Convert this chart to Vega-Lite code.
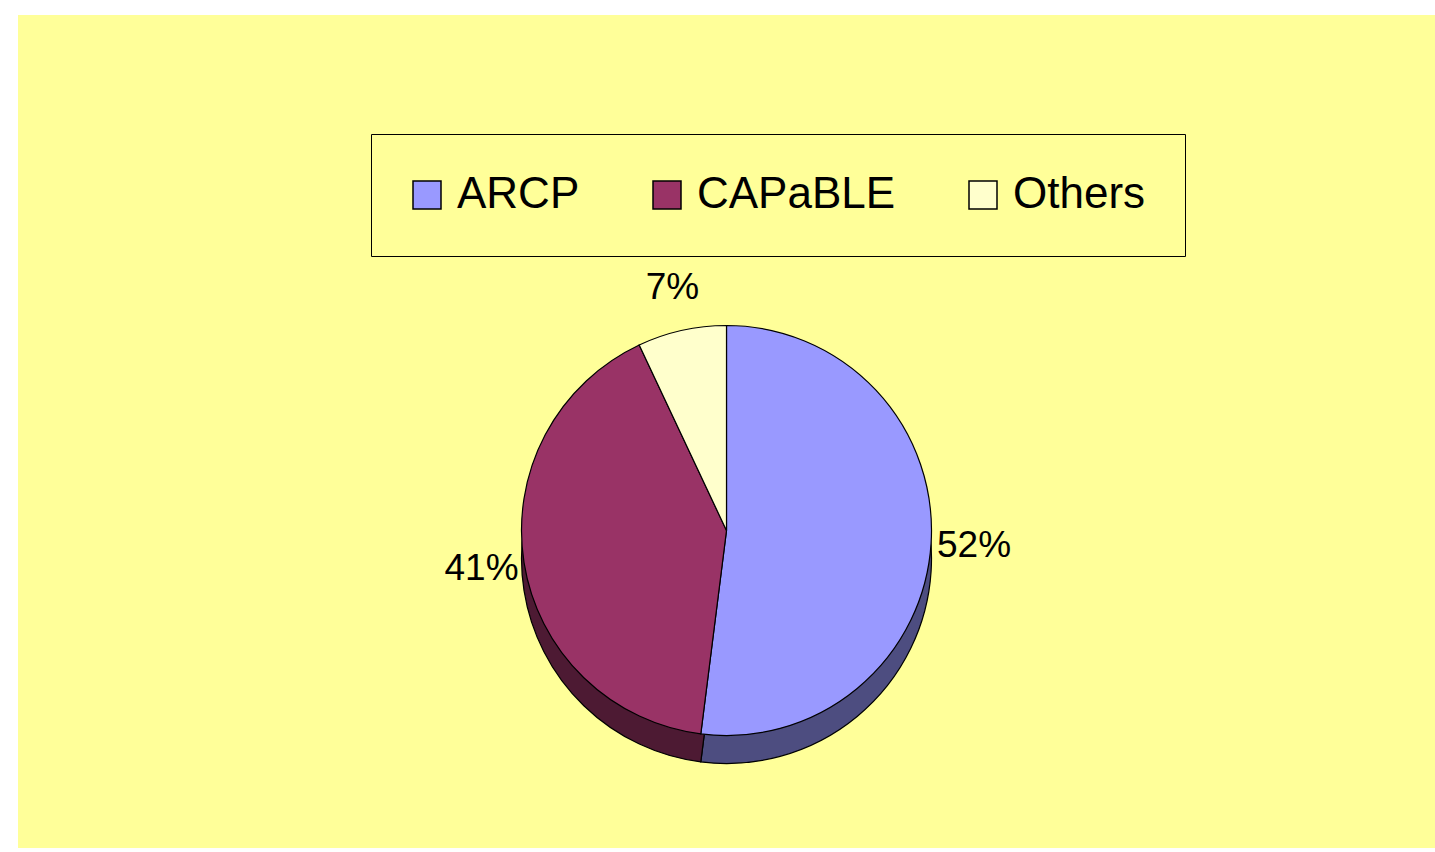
{
  "$schema": "https://vega.github.io/schema/vega-lite/v6.json",
  "width": 1435,
  "height": 852,
  "autosize": {"type": "fit", "contains": "padding"},
  "padding": {"left": 18, "top": 15, "right": 0, "bottom": 4},
  "background": "#FFFFFF",
  "view": {"fill": "#FFFF99", "stroke": null},
  "config": {
    "font": "Liberation Sans"
  },
  "data": {
    "values": [
      {"source": "ARCP", "share": 0.52},
      {"source": "CAPaBLE", "share": 0.41},
      {"source": "Others", "share": 0.07}
    ]
  },
  "layer": [
    {
      "mark": {"type": "arc", "outerRadius": 205, "yOffset": 127, "stroke": "#000000", "strokeWidth": 1.2},
      "encoding": {
        "theta": {"field": "share", "type": "quantitative", "stack": true},
        "order": {"field": "source", "sort": "ascending"},
        "fill": {
          "condition": [
            {"test": "datum.source === 'ARCP'", "value": "#4D4D80"},
            {"test": "datum.source === 'CAPaBLE'", "value": "#4D1A33"}
          ],
          "value": "#80806A"
        }
      }
    },
    {
      "mark": {"type": "arc", "outerRadius": 205, "yOffset": 99, "stroke": "#000000", "strokeWidth": 1.2},
      "encoding": {
        "theta": {"field": "share", "type": "quantitative", "stack": true},
        "order": {"field": "source", "sort": "ascending"},
        "color": {
          "field": "source",
          "type": "nominal",
          "scale": {"domain": ["ARCP", "CAPaBLE", "Others"], "range": ["#9999FF", "#993366", "#FFFFCC"]},
          "legend": {
            "title": null,
            "orient": "none",
            "legendX": 353,
            "legendY": 119,
            "direction": "horizontal",
            "columns": 3,
            "fillColor": "#FFFF99",
            "strokeColor": "#000000",
            "padding": 39,
            "labelFontSize": 44,
            "labelFont": "Liberation Sans",
            "labelColor": "#000000",
            "labelLimit": 0,
            "symbolType": "square",
            "symbolSize": 784,
            "symbolStrokeColor": "#000000",
            "symbolStrokeWidth": 1.5,
            "symbolOpacity": 1,
            "symbolOffset": -5,
            "labelOffset": 8,
            "columnPadding": 70
          }
        }
      }
    },
    {
      "mark": {"type": "text", "yOffset": 99, "fontSize": 37, "font": "Liberation Sans", "color": "#000000"},
      "encoding": {
        "theta": {"field": "share", "type": "quantitative", "stack": true},
        "order": {"field": "source", "sort": "ascending"},
        "detail": {"field": "source", "type": "nominal"},
        "radius": {"value": 248},
        "text": {"field": "share", "type": "quantitative", "format": ".0%"}
      }
    }
  ]
}
